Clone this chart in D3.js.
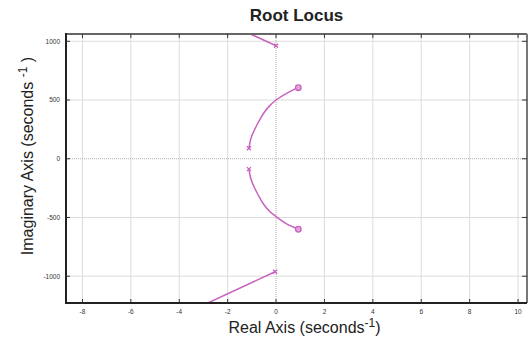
<!DOCTYPE html>
<html>
<head>
<meta charset="utf-8">
<script src="https://cdn.jsdelivr.net/npm/d3@7"></script>
<style>
  body { margin: 0; background: #fff; }
  text { font-family: "Liberation Sans", Arial, sans-serif; }
</style>
</head>
<body>
<div id="chart"></div>
<script>
// ticks
var xTicks = [-8, -6, -4, -2, 0, 2, 4, 6, 8, 10];
var yTicks = [-1000, -500, 0, 500, 1000];

// locus branches (real, imag)
var branchUpperCurve = [[-1.12, 89], [-1.09, 125], [-1.05, 165], [-0.97, 210], [-0.87, 255], [-0.72, 315], [-0.52, 385], [-0.28, 448], [0, 500], [0.4, 553], [0.92, 605]];
var branchLowerCurve = [[-1.12, -88], [-1.09, -124], [-1.05, -164], [-0.97, -210], [-0.87, -255], [-0.72, -315], [-0.52, -385], [-0.28, -445], [0, -492], [0.4, -550], [0.92, -600]];
var branchUpperAsym = [[0, 962], [-3, 1245]];
var branchLowerAsym = [[-0.04, -962], [-3, -1245]];

var poles = [[0, 962], [-0.04, -962], [-1.12, 89], [-1.12, -88]];
var zeros = [[0.92, 605], [0.92, -600]];

var width = 530, height = 338;
var margin = {top: 34, right: 3, bottom: 35, left: 66};
var col = "#c862be";

var svg = d3.select("#chart").append("svg")
    .attr("width", width)
    .attr("height", height);

var x = d3.scaleLinear().domain([-8.68, 10.37]).range([margin.left, width - margin.right]);
var y = d3.scaleLinear().domain([-1228, 1062]).range([height - margin.bottom, margin.top]);

var x0 = margin.left, x1 = width - margin.right, y0 = height - margin.bottom, y1 = margin.top;

// grid
var grid = svg.append("g");
grid.selectAll(".gx").data(xTicks).enter().append("line")
    .attr("x1", d => x(d)).attr("x2", d => x(d))
    .attr("y1", y0).attr("y2", y1)
    .attr("stroke", d => d === 0 ? "#aaa" : "#dcdcdc")
    .attr("stroke-width", 1)
    .attr("stroke-dasharray", d => d === 0 ? "1,1" : null);
grid.selectAll(".gy").data(yTicks).enter().append("line")
    .attr("y1", d => y(d)).attr("y2", d => y(d))
    .attr("x1", x0).attr("x2", x1)
    .attr("stroke", d => d === 0 ? "#aaa" : "#dcdcdc")
    .attr("stroke-width", 1)
    .attr("stroke-dasharray", d => d === 0 ? "1,1" : null);

// clip
svg.append("clipPath").attr("id", "clip").append("rect")
    .attr("x", x0).attr("y", y1).attr("width", x1 - x0).attr("height", y0 - y1);

var plot = svg.append("g").attr("clip-path", "url(#clip)");
var line = d3.line().x(d => x(d[0])).y(d => y(d[1])).curve(d3.curveCatmullRom.alpha(0.5));

[branchUpperCurve, branchLowerCurve, branchUpperAsym, branchLowerAsym].forEach(function (b) {
    plot.append("path").datum(b)
        .attr("d", line)
        .attr("fill", "none")
        .attr("stroke", col)
        .attr("stroke-width", 1.5);
});

// pole markers
poles.forEach(function (p) {
    var cx = x(p[0]), cy = y(p[1]), s = 2;
    plot.append("path")
        .attr("d", "M" + (cx - s) + "," + (cy - s) + "L" + (cx + s) + "," + (cy + s) +
                   "M" + (cx - s) + "," + (cy + s) + "L" + (cx + s) + "," + (cy - s))
        .attr("stroke", col).attr("stroke-width", 1.3);
});
// zero markers
plot.selectAll(".zero").data(zeros).enter().append("circle")
    .attr("cx", d => x(d[0])).attr("cy", d => y(d[1]))
    .attr("r", 2.8)
    .attr("fill", "#e3a6da")
    .attr("stroke", col).attr("stroke-width", 1.3);

// frame
svg.append("line").attr("x1", x0).attr("x2", x1).attr("y1", y1).attr("y2", y1)
    .attr("stroke", "#666").attr("stroke-width", 2);
svg.append("line").attr("x1", x1).attr("x2", x1).attr("y1", y1).attr("y2", y0)
    .attr("stroke", "#777").attr("stroke-width", 2);
svg.append("line").attr("x1", x0).attr("x2", x1).attr("y1", y0).attr("y2", y0)
    .attr("stroke", "#222").attr("stroke-width", 2);
svg.append("line").attr("x1", x0).attr("x2", x0).attr("y1", y1 - 1).attr("y2", y0 + 1)
    .attr("stroke", "#222").attr("stroke-width", 2);

// ticks
var tk = svg.append("g").attr("stroke", "#333").attr("stroke-width", 1);
xTicks.forEach(function (t) {
    tk.append("line").attr("x1", x(t)).attr("x2", x(t)).attr("y1", y0).attr("y2", y0 - 4);
    tk.append("line").attr("x1", x(t)).attr("x2", x(t)).attr("y1", y1).attr("y2", y1 + 4);
});
yTicks.forEach(function (t) {
    tk.append("line").attr("y1", y(t)).attr("y2", y(t)).attr("x1", x0).attr("x2", x0 + 4);
    tk.append("line").attr("y1", y(t)).attr("y2", y(t)).attr("x1", x1).attr("x2", x1 - 5);
});

// tick labels
svg.selectAll(".xl").data(xTicks).enter().append("text")
    .attr("x", d => x(d)).attr("y", y0 + 11)
    .attr("text-anchor", "middle")
    .attr("font-size", "6.5px").attr("fill", "#333")
    .text(d => d);
svg.selectAll(".yl").data(yTicks).enter().append("text")
    .attr("x", x0 - 6).attr("y", d => y(d) + 2.3)
    .attr("text-anchor", "end")
    .attr("font-size", "6.5px").attr("fill", "#333")
    .text(d => d);

// title
svg.append("text")
    .attr("x", (x0 + x1) / 2).attr("y", 21)
    .attr("text-anchor", "middle")
    .attr("font-size", "17px").attr("font-weight", "bold").attr("fill", "#222")
    .text("Root Locus");

// x label
var xl = svg.append("text")
    .attr("x", (x0 + x1) / 2 + 8).attr("y", 333)
    .attr("text-anchor", "middle")
    .attr("font-size", "16px").attr("fill", "#222");
xl.append("tspan").text("Real Axis (seconds");
xl.append("tspan").attr("dy", -6).attr("font-size", "12px").text("-1");
xl.append("tspan").attr("dy", 6).text(")");

// y label
var yl = svg.append("text")
    .attr("transform", "translate(33," + 156 + ") rotate(-90)")
    .attr("text-anchor", "middle")
    .attr("font-size", "16px").attr("fill", "#222");
yl.append("tspan").text("Imaginary Axis (seconds ");
yl.append("tspan").attr("dy", -6).attr("font-size", "12px").text("-1");
yl.append("tspan").attr("dy", 6).text(" )");
</script>
</body>
</html>
